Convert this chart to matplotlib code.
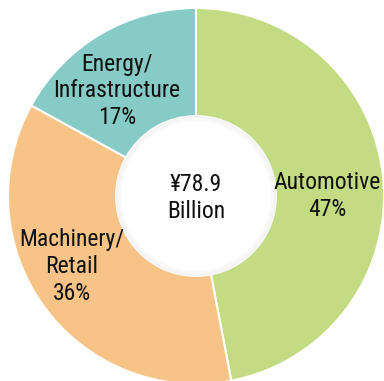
import matplotlib.pyplot as plt
from matplotlib.patches import Circle

# segment data (clockwise from 12 o'clock)
sectors = ['Automotive', 'Machinery/\nRetail', 'Energy/\nInfrastructure']
shares = [47, 36, 17]
colors = ['#c3dc84', '#f7c386', '#86cbc6']
total_label = '¥78.9\nBillion'

# label anchor points, in pie radius units
label_pos = [(0.70, 0.0), (-0.66, -0.375), (-0.42, 0.56)]

plt.rcParams['font.family'] = ['Roboto Condensed', 'Liberation Sans Narrow', 'Roboto', 'DejaVu Sans']

fig = plt.figure(figsize=(3.84, 3.81), dpi=100)
ax = fig.add_axes([8 / 384, (381 - 196 - 188) / 381, 376 / 384, 376 / 381])

wedges, _ = ax.pie(shares, colors=colors, startangle=90, counterclock=False,
                   radius=1.0, wedgeprops=dict(width=0.575, edgecolor='white', linewidth=1.5))

# soft shadow round the hole
for i, a in enumerate([0.05, 0.04, 0.03, 0.02]):
    ax.add_patch(Circle((0, 0), 0.425 - i * 0.008, facecolor='none',
                        edgecolor='#888888', alpha=a, linewidth=2))

for name, s, (x, y) in zip(sectors, shares, label_pos):
    ax.text(x, y, name + '\n' + str(s) + '%', ha='center', va='center',
            fontsize=17, linespacing=1.2, color='#111111')

ax.text(0, -0.01, total_label, ha='center', va='center', fontsize=17,
        linespacing=1.2, color='#111111')

ax.set_xlim(-1, 1)
ax.set_ylim(-1, 1)
ax.set_aspect('equal')
ax.axis('off')

fig.savefig('out.png', dpi=100)
